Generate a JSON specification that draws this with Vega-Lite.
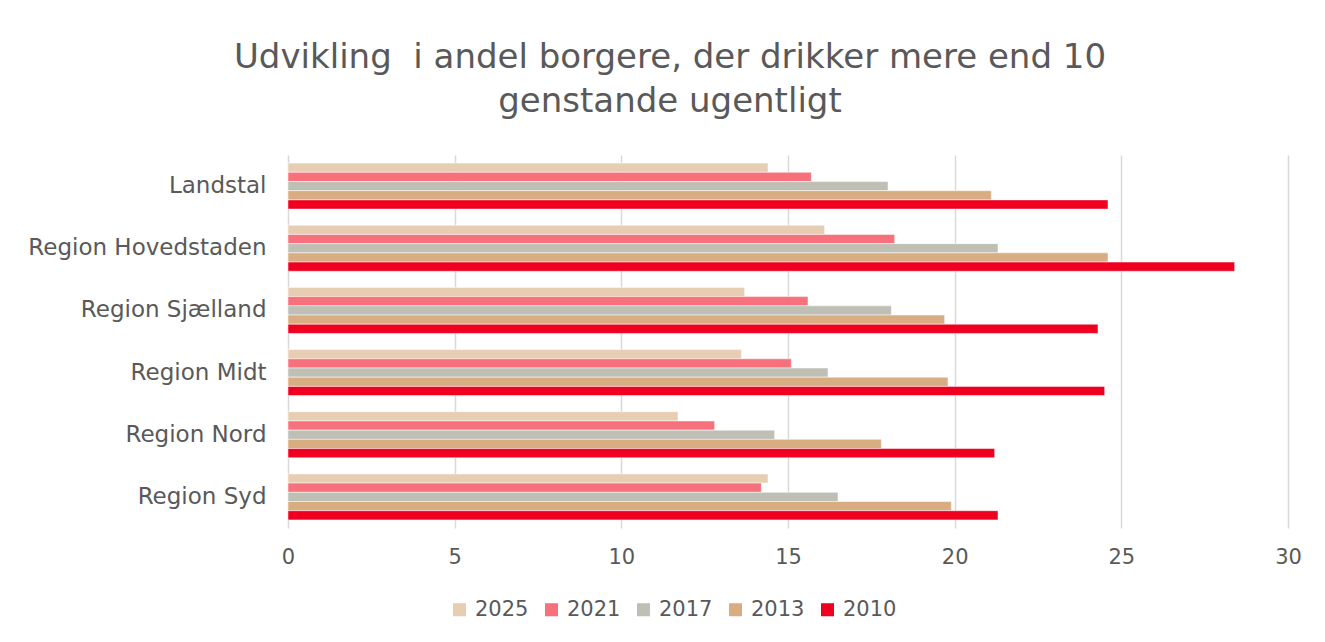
{
  "$schema": "https://vega.github.io/schema/vega-lite/v6.json",
  "autosize": {"type": "none"},
  "width": 1000,
  "height": 373,
  "padding": {"left": 288, "top": 155, "right": 37, "bottom": 114},
  "background": "white",
  "title": {
    "text": ["Udvikling\u00a0 i andel borgere, der drikker mere end 10", "genstande ugentligt"],
    "anchor": "middle",
    "dx": -118,
    "offset": 36,
    "fontSize": 34,
    "lineHeight": 44,
    "font": "DejaVu Sans",
    "fontWeight": "normal",
    "color": "#595959"
  },
  "data": {
    "values": [
      {"region": "Landstal", "year": "2025", "value": 14.4},
      {"region": "Landstal", "year": "2021", "value": 15.7},
      {"region": "Landstal", "year": "2017", "value": 18.0},
      {"region": "Landstal", "year": "2013", "value": 21.1},
      {"region": "Landstal", "year": "2010", "value": 24.6},
      {"region": "Region Hovedstaden", "year": "2025", "value": 16.1},
      {"region": "Region Hovedstaden", "year": "2021", "value": 18.2},
      {"region": "Region Hovedstaden", "year": "2017", "value": 21.3},
      {"region": "Region Hovedstaden", "year": "2013", "value": 24.6},
      {"region": "Region Hovedstaden", "year": "2010", "value": 28.4},
      {"region": "Region Sjælland", "year": "2025", "value": 13.7},
      {"region": "Region Sjælland", "year": "2021", "value": 15.6},
      {"region": "Region Sjælland", "year": "2017", "value": 18.1},
      {"region": "Region Sjælland", "year": "2013", "value": 19.7},
      {"region": "Region Sjælland", "year": "2010", "value": 24.3},
      {"region": "Region Midt", "year": "2025", "value": 13.6},
      {"region": "Region Midt", "year": "2021", "value": 15.1},
      {"region": "Region Midt", "year": "2017", "value": 16.2},
      {"region": "Region Midt", "year": "2013", "value": 19.8},
      {"region": "Region Midt", "year": "2010", "value": 24.5},
      {"region": "Region Nord", "year": "2025", "value": 11.7},
      {"region": "Region Nord", "year": "2021", "value": 12.8},
      {"region": "Region Nord", "year": "2017", "value": 14.6},
      {"region": "Region Nord", "year": "2013", "value": 17.8},
      {"region": "Region Nord", "year": "2010", "value": 21.2},
      {"region": "Region Syd", "year": "2025", "value": 14.4},
      {"region": "Region Syd", "year": "2021", "value": 14.2},
      {"region": "Region Syd", "year": "2017", "value": 16.5},
      {"region": "Region Syd", "year": "2013", "value": 19.9},
      {"region": "Region Syd", "year": "2010", "value": 21.3}
    ]
  },
  "mark": {"type": "bar", "stroke": "white", "strokeWidth": 0.5},
  "encoding": {
    "y": {
      "field": "region",
      "type": "nominal",
      "sort": ["Landstal", "Region Hovedstaden", "Region Sjælland", "Region Midt", "Region Nord", "Region Syd"],
      "scale": {"paddingInner": 0.26, "paddingOuter": 0.13},
      "axis": {
        "title": null,
        "domain": false,
        "ticks": false,
        "labelFontSize": 23,
        "labelFont": "DejaVu Sans",
        "labelColor": "#595959",
        "labelPadding": 22,
        "labelLimit": 400
      }
    },
    "yOffset": {
      "field": "year",
      "type": "nominal",
      "sort": ["2025", "2021", "2017", "2013", "2010"],
      "scale": {"paddingInner": 0, "paddingOuter": 0}
    },
    "x": {
      "field": "value",
      "type": "quantitative",
      "scale": {"domain": [0, 30], "nice": false},
      "axis": {
        "title": null,
        "values": [0, 5, 10, 15, 20, 25, 30],
        "domain": false,
        "ticks": false,
        "grid": true,
        "gridColor": "#d9d9d9",
        "gridWidth": 1.5,
        "labelFlush": false,
        "labelFontSize": 21,
        "labelFont": "DejaVu Sans",
        "labelColor": "#595959",
        "labelPadding": 18
      }
    },
    "color": {
      "field": "year",
      "type": "nominal",
      "sort": ["2025", "2021", "2017", "2013", "2010"],
      "scale": {
        "domain": ["2025", "2021", "2017", "2013", "2010"],
        "range": ["#E7CDB2", "#F6717B", "#BFBFB6", "#D7AD81", "#EF0020"]
      },
      "legend": {
        "title": null,
        "orient": "none",
        "direction": "horizontal",
        "legendX": 161,
        "legendY": 444,
        "symbolType": "square",
        "symbolSize": 170,
        "symbolStrokeWidth": 0,
        "labelFontSize": 21,
        "labelFont": "DejaVu Sans",
        "labelColor": "#595959",
        "columnPadding": 12,
        "labelOffset": 5
      }
    }
  },
  "config": {"view": {"stroke": null}}
}
